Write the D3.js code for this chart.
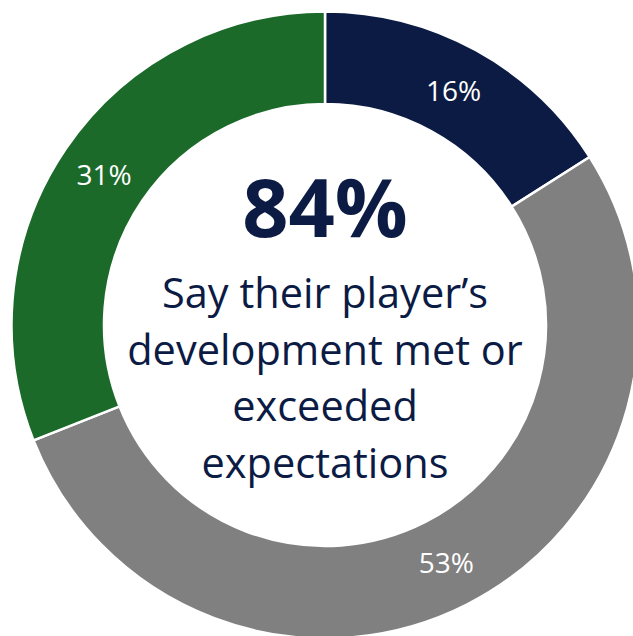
<!DOCTYPE html>
<html>
<head>
<meta charset="utf-8">
<script src="https://cdn.jsdelivr.net/npm/d3@7"></script>
<style>
  html, body { margin: 0; padding: 0; background: #fff; }
  svg { display: block; }
</style>
</head>
<body>
<svg id="chart" width="633" height="636"></svg>
<script>
// Survey shares, clockwise from 12 o'clock
const categories = ["Exceeded expectations", "Met expectations", "Below expectations"];
const values = [16, 53, 31];
const labels = ["16%", "53%", "31%"];
const colors = ["#0b1b44", "#808080", "#1b6a2a"];

const headline = "84%";
const captionLines = ["Say their player\u2019s", "development met or", "exceeded", "expectations"];

const W = 633, H = 636;
const cx = 325, cy = 325;
const outerR = 313.5, innerR = 221;
const navy = "#0b1b44";

const svg = d3.select("#chart");
const g = svg.append("g").attr("transform", `translate(${cx},${cy})`);

const pie = d3.pie().sort(null).value(d => d.value);
const arc = d3.arc().innerRadius(innerR).outerRadius(outerR);
const labelArc = d3.arc().innerRadius(267).outerRadius(267);

const data = categories.map((c, i) => ({ name: c, value: values[i], label: labels[i], color: colors[i] }));
const arcs = pie(data);

g.selectAll("path.slice")
  .data(arcs)
  .join("path")
  .attr("class", "slice")
  .attr("d", arc)
  .attr("fill", d => d.data.color)
  .attr("stroke", "#fff")
  .attr("stroke-width", 2.5)
  .attr("stroke-linejoin", "miter");

g.selectAll("text.pct")
  .data(arcs)
  .join("text")
  .attr("class", "pct")
  .attr("transform", d => `translate(${labelArc.centroid(d)})`)
  .attr("text-anchor", "middle")
  .attr("dy", "0.36em")
  .attr("fill", "#fff")
  .style("font-family", "'Open Sans', 'Noto Sans', sans-serif")
  .style("font-size", "28px")
  .text(d => d.data.label);

// Centre headline and caption
g.append("text")
  .attr("x", 0)
  .attr("y", 237 - cy)
  .attr("text-anchor", "middle")
  .attr("fill", navy)
  .style("font-family", "'Open Sans', 'Noto Sans', sans-serif")
  .style("font-weight", 700)
  .style("font-size", "81px")
  .text(headline);

g.selectAll("text.caption")
  .data(captionLines)
  .join("text")
  .attr("class", "caption")
  .attr("x", 0)
  .attr("y", (d, i) => 308 - cy + i * 56.7)
  .attr("text-anchor", "middle")
  .attr("fill", navy)
  .style("font-family", "'Open Sans', 'Noto Sans', sans-serif")
  .style("font-size", "41.5px")
  .text(d => d);
</script>
</body>
</html>
